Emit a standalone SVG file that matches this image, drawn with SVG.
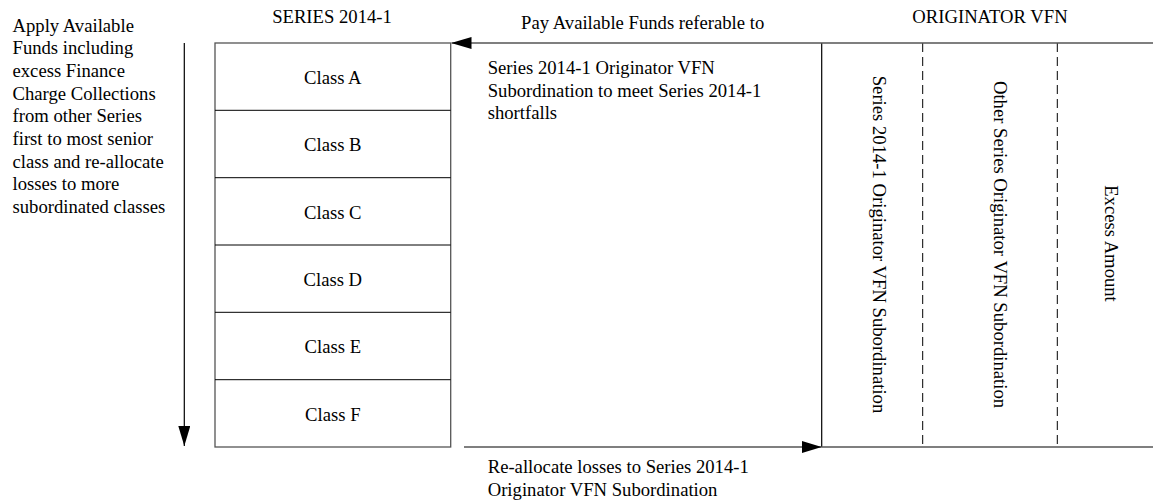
<svg xmlns="http://www.w3.org/2000/svg" width="1153" height="500" viewBox="0 0 1153 500">
<style>
text{font-family:"Liberation Serif","Times New Roman",serif;font-size:18.67px;fill:#000}
.c{text-anchor:middle}
.box{fill:#fff;stroke:#555;stroke-width:1.3}
.sep{stroke:#000;stroke-width:1}
.ln{stroke:#555;stroke-width:1.3;fill:none}
.blk{stroke:#000;stroke-width:1.2;fill:none}
.dash{stroke:#000;stroke-width:1;stroke-dasharray:9,5;fill:none}
</style>
<defs>
<marker id="ah" viewBox="0 0 20 12" refX="20" refY="6" markerWidth="20" markerHeight="12" markerUnits="userSpaceOnUse" orient="auto">
<path d="M0,0 L20,6 L0,12 Z" fill="#000"/>
</marker>
</defs>
<g id="left-label">
<text x="12.5" y="31.7">Apply Available</text>
<text x="12.5" y="54.4">Funds including</text>
<text x="12.5" y="77">excess Finance</text>
<text x="12.5" y="99.7">Charge Collections</text>
<text x="12.5" y="122.3">from other Series</text>
<text x="12.5" y="145">first to most senior</text>
<text x="12.5" y="167.7">class and re-allocate</text>
<text x="12.5" y="190.3">losses to more</text>
<text x="12.5" y="213">subordinated classes</text>
</g>
<g id="series-title"><text class="c" x="332" y="22.7">SERIES 2014-1</text></g>
<g id="originator-title"><text class="c" x="990" y="22.7">ORIGINATOR VFN</text></g>
<g id="series-box">
<rect class="box" x="215" y="43" width="235.7" height="404"/>
<line class="sep" x1="215" y1="110.3" x2="450.7" y2="110.3"/>
<line class="sep" x1="215" y1="177.7" x2="450.7" y2="177.7"/>
<line class="sep" x1="215" y1="245" x2="450.7" y2="245"/>
<line class="sep" x1="215" y1="312.3" x2="450.7" y2="312.3"/>
<line class="sep" x1="215" y1="379.7" x2="450.7" y2="379.7"/>
</g>
<g id="class-a"><text class="c" x="332.8" y="84">Class A</text></g>
<g id="class-b"><text class="c" x="332.8" y="151.3">Class B</text></g>
<g id="class-c"><text class="c" x="332.8" y="218.6">Class C</text></g>
<g id="class-d"><text class="c" x="332.8" y="286">Class D</text></g>
<g id="class-e"><text class="c" x="332.8" y="353.3">Class E</text></g>
<g id="class-f"><text class="c" x="332.8" y="420.6">Class F</text></g>
<g id="originator-vfn">
<line class="blk" x1="821.7" y1="43" x2="821.7" y2="447"/>
<line class="dash" x1="922.7" y1="43" x2="922.7" y2="447"/>
<line class="dash" x1="1057.3" y1="43" x2="1057.3" y2="447"/>
<text class="c" transform="translate(872.5,244.5) rotate(90)">Series 2014-1 Originator VFN Subordination</text>
<text class="c" transform="translate(993.5,244.5) rotate(90)">Other Series Originator VFN Subordination</text>
<text class="c" transform="translate(1105,243.5) rotate(90)">Excess Amount</text>
</g>
<g id="connectors">
<line class="blk" x1="184.3" y1="43" x2="184.3" y2="446" marker-end="url(#ah)"/>
<line class="ln" x1="1153" y1="43" x2="451.5" y2="43" marker-end="url(#ah)"/>
<line class="ln" x1="464" y1="447" x2="821.7" y2="447" marker-end="url(#ah)"/>
<line class="ln" x1="821.7" y1="447" x2="1153" y2="447"/>
</g>
<g id="pay-label">
<text class="c" x="642.7" y="29">Pay Available Funds referable to</text>
<text x="487.7" y="74">Series 2014-1 Originator VFN</text>
<text x="487.7" y="96.5">Subordination to meet Series 2014-1</text>
<text x="487.7" y="119">shortfalls</text>
</g>
<g id="reallocate-label">
<text x="487.7" y="473">Re-allocate losses to Series 2014-1</text>
<text x="487.7" y="495.5">Originator VFN Subordination</text>
</g>
</svg>
